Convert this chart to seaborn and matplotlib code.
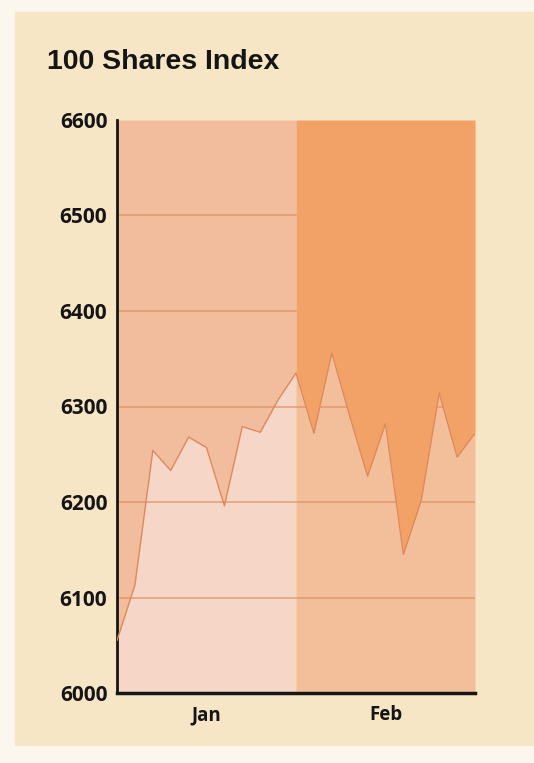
import numpy as np
import pandas as pd
import matplotlib.pyplot as plt
import seaborn as sns
from matplotlib.patches import Rectangle

# ─── DATA ──────────────────────────────────────────────────────────────────────
TITLE = "100 Shares Index"
day = list(range(21))  # trading days, Jan = 0..10, Feb = 10..20
index_value = [6055, 6113, 6254, 6233, 6268, 6257, 6196, 6279, 6273, 6307,
               6335, 6272, 6356, 6290, 6227, 6282, 6145, 6202, 6314, 6247,
               6272]
months = ["Jan", "Feb"]
month_edges = [0, 10, 20]
y_ticks = [6000, 6100, 6200, 6300, 6400, 6500, 6600]

# ─── COLOURS ───────────────────────────────────────────────────────────────────
PAPER      = "#f7e6c6"
JAN_ABOVE  = "#f2bd9c"
JAN_BELOW  = "#f6d6c6"
FEB_ABOVE  = "#f2a266"
FEB_BELOW  = "#f3bf9a"
GRID       = "#d98a62"
LINE       = "#df8a5e"
INK        = "#151515"

df = pd.DataFrame({"day": day, "value": index_value})

sns.set_style("white")
plt.rcParams["font.family"] = ["Open Sans", "DejaVu Sans"]

fig = plt.figure(figsize=(5.34, 7.63), dpi=100, facecolor="#fbf6ee")
fig.patches.append(Rectangle((15 / 534, 18 / 763), 519 / 534, 733 / 763,
                             transform=fig.transFigure, color=PAPER,
                             zorder=-10))

ax = fig.add_axes([117 / 534, 1 - 693 / 763, 358 / 534, 573 / 763])
ax.set_zorder(5)
ax.set_facecolor("none")

x = df["day"].values
y = df["value"].values
ymin, ymax = y_ticks[0], y_ticks[-1]

jan = x <= month_edges[1]
feb = x >= month_edges[1]
ax.fill_between(x[jan], ymin, y[jan], color=JAN_BELOW, lw=0, zorder=0)
ax.fill_between(x[jan], y[jan], ymax, color=JAN_ABOVE, lw=0, zorder=0)
ax.fill_between(x[feb], ymin, y[feb], color=FEB_BELOW, lw=0, zorder=0)

# grid lines sit under the Feb shading above the line
for v in y_ticks[1:-1]:
    ax.axhline(v, color=GRID, lw=1.1, alpha=0.75, zorder=1)

ax.fill_between(x[feb], y[feb], ymax, color=FEB_ABOVE, lw=0, zorder=2)

sns.lineplot(data=df, x="day", y="value", ax=ax, color=LINE, lw=1.0, zorder=3)

ax.set_xlim(month_edges[0], month_edges[-1])
ax.set_ylim(ymin, ymax)

ax.set_yticks(y_ticks)
ax.set_yticklabels([str(v) for v in y_ticks], fontsize=15, fontweight="bold",
                   color=INK)
ax.set_xticks(month_edges)
ax.set_xticklabels([])
ax.set_xticks([(month_edges[i] + month_edges[i + 1]) / 2 for i in range(2)],
              minor=True)
ax.set_xticklabels(months, minor=True, fontsize=13.5, fontweight="bold",
                   color=INK)
ax.tick_params(axis="x", which="minor", length=0, pad=9)
ax.tick_params(axis="x", which="major", length=5, width=2, color=INK,
               direction="out")
ax.tick_params(axis="y", length=5, width=1.5, color=INK, pad=2)

for side in ["top", "right"]:
    ax.spines[side].set_visible(False)
ax.spines["left"].set_linewidth(2)
ax.spines["bottom"].set_linewidth(2.5)
ax.spines["left"].set_color(INK)
ax.spines["bottom"].set_color(INK)
ax.set_xlabel("")
ax.set_ylabel("")

fig.text(47 / 534, 1 - 69 / 763, TITLE, fontsize=20.5, fontweight="bold",
         family=["Liberation Sans", "DejaVu Sans"], color=INK)

fig.savefig("out.png", dpi=100, facecolor=fig.get_facecolor())
